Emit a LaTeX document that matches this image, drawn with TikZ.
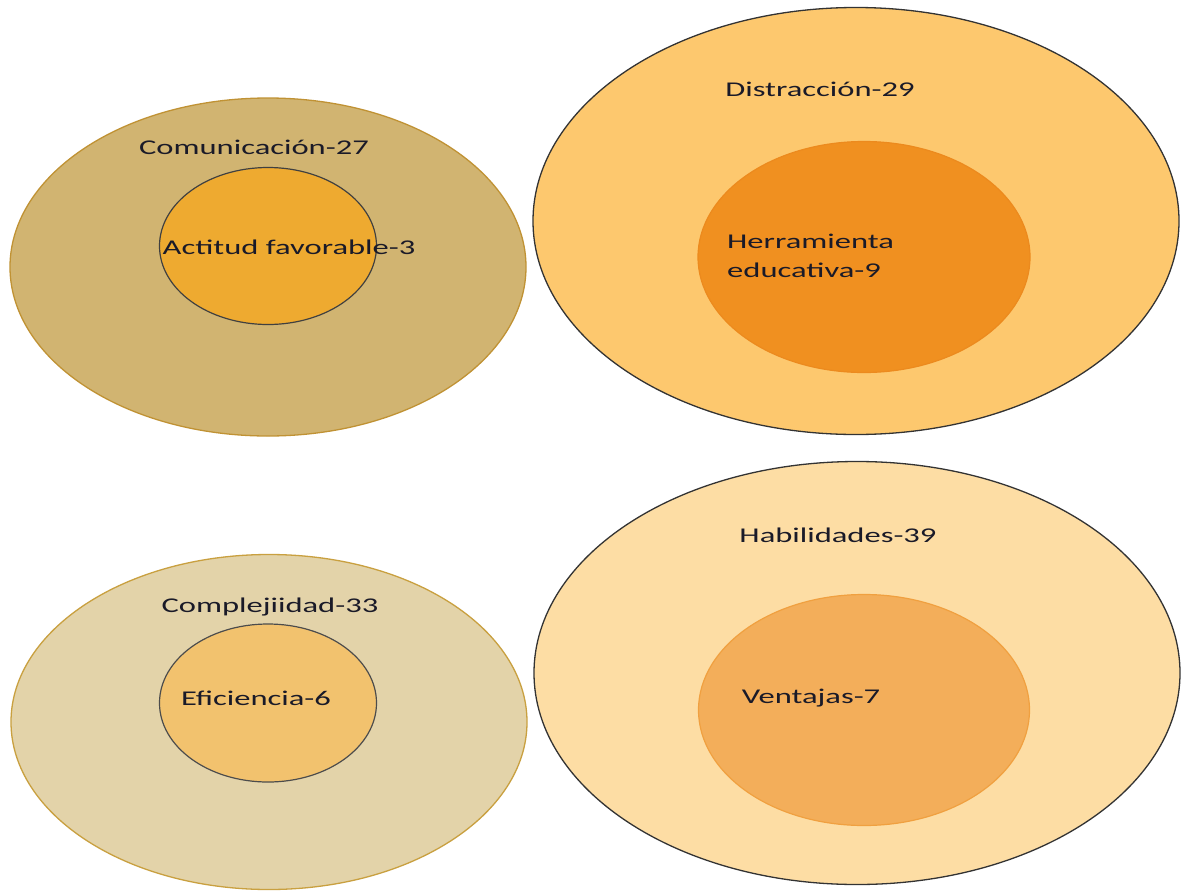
\documentclass[tikz,border=0pt]{standalone}
\usepackage{fontspec}
\setmainfont{Carlito}[FakeStretch=1.55]
\usetikzlibrary{shapes.geometric}
\usepackage{xcolor}
\definecolor{comfill}{RGB}{209,180,113}
\definecolor{comline}{RGB}{192,146,52}
\definecolor{actfill}{RGB}{238,170,48}
\definecolor{disfill}{RGB}{253,200,110}
\definecolor{herfill}{RGB}{240,144,32}
\definecolor{herline}{RGB}{236,138,30}
\definecolor{cplfill}{RGB}{227,211,169}
\definecolor{cplline}{RGB}{201,160,64}
\definecolor{efifill}{RGB}{242,194,110}
\definecolor{habfill}{RGB}{253,221,164}
\definecolor{venfill}{RGB}{243,174,90}
\definecolor{venline}{RGB}{240,160,64}
\definecolor{textcol}{RGB}{26,26,40}

\begin{document}
\begin{tikzpicture}[
        x=1pt, y=-1pt,
        outernode/.style={shape=ellipse, inner sep=0pt, line width=1.3pt},
        innernode/.style={shape=ellipse, inner sep=0pt, line width=1.2pt},
        labeltext/.style={font=\fontsize{21}{29}\selectfont, text=textcol, inner sep=0pt}
        ]

        %% Page
        \useasboundingbox[fill=white] (0,0) rectangle (1181,892);

        %% Outer sets
        \node[outernode, fill=comfill, draw=comline, minimum width=516pt, minimum height=338pt] (com) at (268,267) {};
        \node[outernode, fill=disfill, draw=black!80, minimum width=646pt, minimum height=427pt] (dis) at (856,221) {};
        \node[outernode, fill=cplfill, draw=cplline, minimum width=516pt, minimum height=335pt] (cpl) at (269,722) {};
        \node[outernode, fill=habfill, draw=black!80, minimum width=646pt, minimum height=423pt] (hab) at (857,673) {};

        %% Inner sets
        \node[innernode, fill=actfill, draw=black!75, minimum width=217pt, minimum height=157pt] (act) at (268,246) {};
        \node[innernode, fill=herfill, draw=herline, minimum width=332pt, minimum height=231pt] (her) at (864,257) {};
        \node[innernode, fill=efifill, draw=black!70, minimum width=217pt, minimum height=158pt] (efi) at (268,703) {};
        \node[innernode, fill=venfill, draw=venline, minimum width=331pt, minimum height=231pt] (ven) at (864,710) {};

        %% Labels
        \node[labeltext] (comlabel) at (254,147) {Comunicación-27};
        \node[labeltext] (actlabel) at (289,247) {Actitud favorable-3};
        \node[labeltext] (dislabel) at (820,89) {Distracción-29};
        \node[labeltext, anchor=west, align=left] (herlabel) at (727,256) {Herramienta\\educativa-9};
        \node[labeltext] (cpllabel) at (270,607) {Complejiidad-33};
        \node[labeltext] (efilabel) at (256,698) {Eficiencia-6};
        \node[labeltext] (hablabel) at (838,535) {Habilidades-39};
        \node[labeltext] (venlabel) at (811,698) {Ventajas-7};
\end{tikzpicture}
\end{document}
